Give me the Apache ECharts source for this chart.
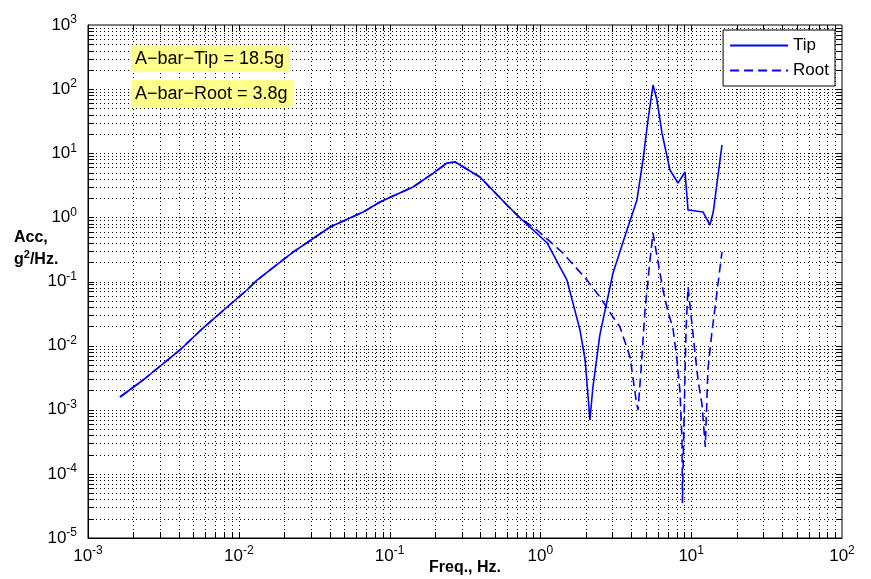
<!DOCTYPE html>
<html><head><meta charset="utf-8">
<script src="https://cdn.jsdelivr.net/npm/echarts@6/dist/echarts.min.js"></script>
<style>html,body{margin:0;padding:0;background:#fff}#c{width:871px;height:579px}</style>
</head><body><div id="c"></div>
<script>
// ---- data ----
const tipFreq = [0.00163,0.00232,0.00407,0.00579,0.00915,0.01132,0.0132,0.0229,0.0403,0.0667,0.0863,0.143,0.195,0.240,0.272,0.397,0.600,0.733,
  1.11,1.50,1.83,1.98,2.13,2.23,2.48,3.03,3.75,4.37,4.79,5.17,5.58,5.93,6.40,7.23,8.17,9.10,9.53,12.0,13.3,14.0,16.0];
const tipAcc = [0.00158,0.00291,0.00855,0.0188,0.0479,0.0737,0.105,0.288,0.708,1.21,1.74,2.98,4.9,7.05,7.3,4.26,1.56,0.977,
  0.398,0.105,0.0175,0.00597,0.000692,0.00226,0.0147,0.136,0.635,1.87,7.85,33.0,116,67.6,20.7,5.48,3.44,5.10,1.30,1.21,0.760,1.21,13.5];
const rootFreq = [0.00163,0.00232,0.00407,0.00579,0.00915,0.01132,0.0132,0.0229,0.0403,0.0667,0.0863,0.143,0.195,0.240,0.272,0.397,0.600,0.733,
  0.853,0.948,1.41,2.04,2.48,3.03,3.37,3.93,4.31,4.44,4.65,4.94,5.33,5.58,6.03,6.50,7.02,7.57,8.05,8.43,8.69,8.75,8.96,9.24,9.53,
  10.1,10.6,11.1,11.8,12.4,12.9,13.7,14.6,16.0];
const rootAcc = [0.00158,0.00291,0.00855,0.0188,0.0479,0.0737,0.105,0.288,0.708,1.21,1.74,2.98,4.9,7.05,7.3,4.26,1.56,0.977,
  0.760,0.635,0.278,0.105,0.0573,0.0279,0.0195,0.00665,0.00142,0.00099,0.00417,0.0360,0.216,0.570,0.201,0.0737,0.0334,0.0188,0.00597,0.00189,0.000337,0.000035,0.00069,0.0175,0.082,
  0.0225,0.00767,0.00291,0.00119,0.000262,0.00417,0.0157,0.0514,0.288];
const seriesNames = ['Tip','Root'];
const annotations = ['A\u2212bar\u2212Tip = 18.5g','A\u2212bar\u2212Root = 3.8g'];
const xDecades = [0.001,0.01,0.1,1,10,100];
const yDecades = [1e-5,1e-4,1e-3,1e-2,1e-1,1,10,100,1000];
const minorSteps = [1,2,3,4,5,6,7,8,9];
const xTitle = 'Freq., Hz.';

// ---- helpers ----
const X_MIN = xDecades[0], X_MAX = xDecades[xDecades.length-1];
const Y_MIN = yDecades[0], Y_MAX = yDecades[yDecades.length-1];
function gridValues(decades){
  const out = [];
  for (let i=0;i<decades.length-1;i++) for (const m of minorSteps) out.push(decades[i]*m);
  return out;
}
const xGrid = gridValues(xDecades).filter(v=>v>X_MIN*1.0001);
const yGrid = gridValues(yDecades).filter(v=>v>Y_MIN*1.0001);
const TICK = 6;
const gridStyle = {stroke:'#000', lineWidth:1, lineDash:[1,3], opacity:1};
const tickStyle = {stroke:'#000', lineWidth:1};
const r = v => Math.round(v)+0.5;

function vRender(params, api){
  const x = api.value(0);
  const p0 = api.coord([x, Y_MIN]), p1 = api.coord([x, Y_MAX]);
  const xx = r(p0[0]);
  return {type:'group', children:[
    {type:'line', shape:{x1:xx,y1:p0[1],x2:xx,y2:p1[1]}, style:gridStyle},
    {type:'line', shape:{x1:xx,y1:p0[1],x2:xx,y2:p0[1]-TICK}, style:tickStyle},
    {type:'line', shape:{x1:xx,y1:p1[1],x2:xx,y2:p1[1]+TICK}, style:tickStyle}
  ]};
}
function hRender(params, api){
  const y = api.value(1);
  const p0 = api.coord([X_MIN, y]), p1 = api.coord([X_MAX, y]);
  const yy = r(p0[1]);
  return {type:'group', children:[
    {type:'line', shape:{x1:p0[0],y1:yy,x2:p1[0],y2:yy}, style:gridStyle},
    {type:'line', shape:{x1:p0[0],y1:yy,x2:p0[0]+TICK,y2:yy}, style:tickStyle},
    {type:'line', shape:{x1:p1[0],y1:yy,x2:p1[0]-TICK,y2:yy}, style:tickStyle}
  ]};
}
const FONT = 'Liberation Sans, Arial, sans-serif';
const expLabel = v => '{b|10}{s|' + Math.round(Math.log10(v)) + '}';
const labelRich = {
  b:{fontSize:17, fontFamily:FONT, color:'#000', lineHeight:22},
  s:{fontSize:12, fontFamily:FONT, color:'#000', verticalAlign:'top', lineHeight:22}
};

const chart = echarts.init(document.getElementById('c'), null, {renderer:'canvas'});
chart.setOption({
  animation:false,
  backgroundColor:'#fff',
  grid:{left:88, right:29, top:25, bottom:41, outerBoundsMode:'none', containLabel:false,
    show:true, borderColor:'#000', borderWidth:1, backgroundColor:'transparent'},
  xAxis:{type:'log', logBase:10, min:X_MIN, max:X_MAX, splitNumber:5,
    axisLine:{show:true, lineStyle:{color:'#000', width:1}}, axisTick:{show:false}, splitLine:{show:false},
    axisLabel:{formatter:expLabel, rich:labelRich, margin:7},
    name:xTitle, nameLocation:'middle', nameGap:22, nameMoveOverlap:false,
    nameTextStyle:{fontFamily:FONT, fontSize:16, fontWeight:'bold', color:'#000'}},
  yAxis:{type:'log', logBase:10, min:Y_MIN, max:Y_MAX, splitNumber:8,
    axisLine:{show:true, lineStyle:{color:'#000', width:1}}, axisTick:{show:false}, splitLine:{show:false},
    axisLabel:{formatter:expLabel, rich:labelRich, margin:11}},
  legend:{data:seriesNames, orient:'vertical', right:36, top:30, itemWidth:58, itemHeight:14, itemGap:8,
    padding:[7,6,7,6], backgroundColor:'#fff', borderColor:'#000', borderWidth:1,
    itemStyle:{opacity:0},
    textStyle:{fontFamily:FONT, fontSize:17, color:'#000'}},
  graphic:[
    {type:'text', left:131, top:45, z:10, style:{text:annotations[0], font:'18px '+FONT, fill:'#000', backgroundColor:'#ffff8c', padding:[5,6,4,4]}},
    {type:'text', left:131, top:80, z:10, style:{text:annotations[1], font:'18px '+FONT, fill:'#000', backgroundColor:'#ffff8c', padding:[5,6,4,4]}},
    {type:'text', left:14, top:230, z:10, style:{
      text:'{t|Acc,}\n{t|g}{u|2}{t|/Hz.}', align:'center',
      rich:{t:{fontFamily:FONT, fontSize:16, fontWeight:'bold', fill:'#000', lineHeight:22},
            u:{fontFamily:FONT, fontSize:11, fontWeight:'bold', fill:'#000', verticalAlign:'top', lineHeight:22}}}}
  ],
  series:[
    {type:'custom', silent:true, z:1, clip:false, renderItem:vRender, data:xGrid.map(v=>[v,1])},
    {type:'custom', silent:true, z:1, clip:false, renderItem:hRender, data:yGrid.map(v=>[1,v])},
    {name:seriesNames[0], type:'line', z:5, symbol:'none', data:tipFreq.map((f,i)=>[f,tipAcc[i]]),
      lineStyle:{color:'#0000ff', width:1.6}, itemStyle:{color:'#0000ff'}},
    {name:seriesNames[1], type:'line', z:4, symbol:'none', data:rootFreq.map((f,i)=>[f,rootAcc[i]]),
      lineStyle:{color:'#0000ff', width:1.6, type:[9,5]}, itemStyle:{color:'#0000ff'}}
  ]
});
</script></body></html>
